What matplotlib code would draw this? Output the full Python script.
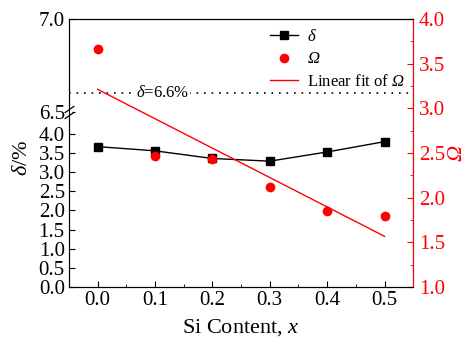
import numpy as np
import matplotlib
matplotlib.use('Agg')
import matplotlib.pyplot as plt
from matplotlib.lines import Line2D
from matplotlib.transforms import ScaledTranslation

plt.rcParams['font.family'] = ['Liberation Serif', 'DejaVu Serif']
# math symbols (delta, Omega, x) all italic Times-like
plt.rcParams['mathtext.fontset'] = 'custom'
plt.rcParams['mathtext.rm'] = 'Liberation Serif:italic'
plt.rcParams['mathtext.it'] = 'Liberation Serif:italic'

# data
si_content = [0.0, 0.1, 0.2, 0.3, 0.4, 0.5]
delta = [3.67, 3.56, 3.36, 3.29, 3.53, 3.80]
omega = [3.67, 2.47, 2.43, 2.12, 1.85, 1.80]
delta_limit = 6.6
xticks = [0.0, 0.1, 0.2, 0.3, 0.4, 0.5]
left_ticks = [0.0, 0.5, 1.0, 1.5, 2.0, 2.5, 3.0, 3.5, 4.0, 6.5, 7.0]
right_ticks = [1.0, 1.5, 2.0, 2.5, 3.0, 3.5, 4.0]

# broken left axis: 0..G shown linearly, then jump to 6.5..7.0 stretched by K
G = 4.575
K = 4.863
def fwd(y):
    y = np.asarray(y, float)
    return np.where(y <= G, y, np.where(y >= 6.5, G + (y - 6.5) * K, G))
def inv(u):
    u = np.asarray(u, float)
    return np.where(u <= G, u, 6.5 + (u - G) / K)

TICK_FS = 15
LABEL_FS = 16

fig = plt.figure(figsize=(4.69, 3.40), dpi=100)
ax = fig.add_axes([0.147, 0.156, 0.734, 0.788])
ax2 = ax.twinx()

ax.set_yscale('function', functions=(fwd, inv))
ax.set_ylim(0, 7.0)
ax.set_xlim(-0.049, 0.55)
ax.set_yticks(left_ticks)
ax.set_yticklabels(['%.1f' % t for t in left_ticks])
ax.yaxis.set_minor_locator(plt.NullLocator())
ax.set_xticks(xticks)
ax.set_xticklabels(['%.1f' % t for t in xticks])
ax.set_xticks(np.arange(-0.05, 0.56, 0.05), minor=True)
ax.tick_params(axis='both', which='both', direction='in', labelsize=TICK_FS, top=False, pad=3)
ax.tick_params(axis='y', which='major', length=4)
ax.tick_params(axis='x', which='major', length=4)
ax.tick_params(axis='x', which='minor', length=2.5)

# delta curve
ax.plot(si_content, delta, color='black', lw=1.0, marker='s', ms=6, zorder=3)

# dotted limit line with label
ax.axhline(delta_limit, color='black', ls=(0, (1, 3.5)), lw=1.2)
ax.text(0.113, delta_limit, r'$\delta$=6.6%', ha='center', va='center', fontsize=12,
        bbox=dict(facecolor='white', edgecolor='none', pad=0.5))

# break marks on left spine
ytr = ax.get_yaxis_transform()
ax.plot([0], [6.5], marker='s', ms=4, mfc='white', mec='none', transform=ytr, clip_on=False, zorder=5)
for dy in (-2.2, 2.2):
    t = ytr + ScaledTranslation(0, dy / 72, fig.dpi_scale_trans)
    ax.plot([0], [6.5], marker=[(-1, -0.7), (1, 0.7)], ms=7, mec='black', mew=0.9,
            transform=t, clip_on=False, zorder=6)

ax.set_xlabel('Si Content, $x$', fontsize=LABEL_FS, labelpad=5)
ax.set_ylabel(r'$\delta$/%', fontsize=LABEL_FS)
ax.yaxis.set_label_coords(-0.108, 0.48)

# omega on right axis
ax2.set_ylim(1.0, 4.0)
ax2.set_yticks(right_ticks)
ax2.set_yticklabels(['%.1f' % t for t in right_ticks])
ax2.set_yticks(np.arange(1.0, 4.01, 0.25), minor=True)
ax2.tick_params(axis='y', which='both', direction='in', colors='red', labelsize=TICK_FS, pad=4)
ax2.tick_params(axis='y', which='major', length=4)
ax2.tick_params(axis='y', which='minor', length=2.5)
ax2.spines['right'].set_color('red')
ax2.set_ylabel(r'$\Omega$', color='red', fontsize=LABEL_FS, labelpad=2)

ax2.plot(si_content, omega, 'o', color='red', ms=7, mec='none', zorder=3)
slope, icpt = np.polyfit(si_content, omega, 1)
xs = np.array([si_content[0], si_content[-1]])
ax2.plot(xs, slope * xs + icpt, color='red', lw=1.0)

handles = [Line2D([], [], color='black', lw=1.0, marker='s', ms=6),
           Line2D([], [], color='red', ls='none', marker='o', ms=7, mec='none'),
           Line2D([], [], color='red', lw=1.0)]
labels = [r'$\delta$', r'$\Omega$', r'Linear fit of $\Omega$']
ax2.legend(handles, labels, loc='upper left', bbox_to_anchor=(0.54, 1.02), frameon=False,
           fontsize=12, handlelength=1.7, handletextpad=0.5, labelspacing=0.4)

fig.savefig('out.png', dpi=100)
